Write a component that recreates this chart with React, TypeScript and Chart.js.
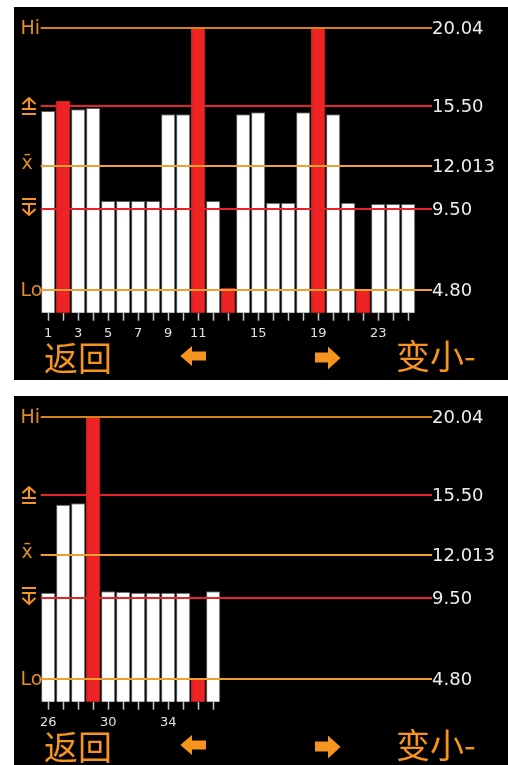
import React, { useEffect, useRef } from "react";
import { Chart, registerables } from "chart.js";

Chart.register(...registerables);

// ---- data ----
const topCategories = ["1","2","3","4","5","6","7","8","9","10","11","12","13","14","15","16","17","18","19","20","21","22","23","24","25"];
const topValues = [15.21, 15.81, 15.31, 15.39, 9.98, 9.98, 9.98, 9.98, 15.02, 15.02, 20.04, 9.98, 4.93, 15.02, 15.14, 9.88, 9.88, 15.14, 20.04, 15.02, 9.88, 4.8, 9.8, 9.8, 9.8];
const topTickLabels = ["1", "3", "5", "7", "9", "11", "15", "19", "23"];

const bottomCategories = ["26","27","28","29","30","31","32","33","34","35","36","37"];
const bottomValues = [9.82, 14.94, 15.02, 20.04, 9.9, 9.88, 9.82, 9.82, 9.82, 9.82, 4.8, 9.9];
const bottomTickLabels = ["26", "30", "34"];

const slotCount = 25;
const refValues = [20.04, 15.5, 12.013, 9.5, 4.8];
const refLabels = ["20.04", "15.50", "12.013", "9.50", "4.80"];
const refKinds = ["Hi", "USL", "Mean", "LSL", "Lo"];
const upperSpec = 15.5;
const lowerSpec = 9.5;
const yMin = 3.48;
const yMax = 21.0;

const ORANGE = "#f7941d";
const ORANGE_LBL = "#e38c1f";
const RED = "#e8222a";
const lineColors = ["#d4821a", RED, "#f0a030", RED, "#f0a030"];

const CHART_BOTTOM = 305.7;

function drawOverlay(chart: any) {
  const { ctx, chartArea, scales } = chart;
  const y = scales.y;
  const x0 = chartArea.left;
  const x1 = 418;
  ctx.save();
  refValues.forEach((v, i) => {
    const py = Math.round(y.getPixelForValue(v));
    ctx.strokeStyle = lineColors[i];
    ctx.lineWidth = 2;
    ctx.beginPath();
    ctx.moveTo(x0, py);
    ctx.lineTo(x1, py);
    ctx.stroke();
    // right value label
    ctx.fillStyle = "#eeeeee";
    ctx.font = "18px 'DejaVu Sans'";
    ctx.textBaseline = "middle";
    ctx.textAlign = "left";
    ctx.fillText(refLabels[i], x1, py + 1);
    // left tag
    const kind = refKinds[i];
    ctx.fillStyle = ORANGE_LBL;
    ctx.strokeStyle = ORANGE;
    ctx.font = "19px 'DejaVu Sans'";
    if (kind === "Hi") {
      ctx.fillText("Hi", 6.5, py + 1);
    } else if (kind === "Lo") {
      ctx.fillText("Lo", 6.5, py + 1);
    } else if (kind === "Mean") {
      ctx.fillText("x\u0304", 7.5, py - 2);
    } else if (kind === "USL") {
      ctx.lineWidth = 2;
      ctx.beginPath();
      ctx.moveTo(8.5, py - 2);
      ctx.lineTo(15, py - 8);
      ctx.lineTo(21.5, py - 2);
      ctx.moveTo(15, py - 8);
      ctx.lineTo(15, py + 3);
      ctx.moveTo(8, py + 3);
      ctx.lineTo(22, py + 3);
      ctx.moveTo(8, py + 8);
      ctx.lineTo(22, py + 8);
      ctx.stroke();
    } else if (kind === "LSL") {
      ctx.lineWidth = 2;
      ctx.beginPath();
      ctx.moveTo(8, py - 10);
      ctx.lineTo(22, py - 10);
      ctx.moveTo(8, py - 5);
      ctx.lineTo(22, py - 5);
      ctx.moveTo(15, py - 5);
      ctx.lineTo(15, py + 6);
      ctx.moveTo(8.5, py);
      ctx.lineTo(15, py + 6);
      ctx.lineTo(21.5, py);
      ctx.stroke();
    }
  });

  // bottom soft keys
  ctx.fillStyle = ORANGE;
  ctx.textBaseline = "middle";
  ctx.textAlign = "left";
  ctx.font = "34px 'Noto Sans CJK SC'";
  ctx.fillText("返回", 30, 351);
  ctx.fillText("变小-", 382, 349);

  // left arrow
  ctx.beginPath();
  ctx.moveTo(166.3, 349);
  ctx.lineTo(178, 339);
  ctx.lineTo(178, 344.5);
  ctx.lineTo(192, 344.5);
  ctx.lineTo(192, 353.5);
  ctx.lineTo(178, 353.5);
  ctx.lineTo(178, 359);
  ctx.closePath();
  ctx.fill();
  // right arrow
  ctx.beginPath();
  ctx.moveTo(326.5, 351);
  ctx.lineTo(314, 339.5);
  ctx.lineTo(314, 345.5);
  ctx.lineTo(301, 345.5);
  ctx.lineTo(301, 355.5);
  ctx.lineTo(314, 355.5);
  ctx.lineTo(314, 362.5);
  ctx.closePath();
  ctx.fill();
  ctx.restore();
}

const overlayPlugin = {
  id: "overlay",
  beforeDraw(chart: any) {
    const { ctx, width, height } = chart;
    ctx.save();
    ctx.fillStyle = "#000";
    ctx.fillRect(0, 0, width, height);
    ctx.restore();
  },
  afterDatasetsDraw(chart: any) {
    drawOverlay(chart);
  },
};

function Panel(props: { categories: string[]; values: number[]; shown: string[]; top: number; height: number }) {
  const ref = useRef<HTMLCanvasElement | null>(null);
  useEffect(() => {
    if (!ref.current) return;
    const labels = [...props.categories];
    while (labels.length < slotCount) labels.push("");
    const n = props.values.length;
    const colors = props.values.map((v) => (v > upperSpec || v < lowerSpec ? "#ee2424" : "#ffffff"));
    const borders = props.values.map((v) => (v > upperSpec || v < lowerSpec ? "#ee2424" : "#5a5a5a"));
    const axisHeight = props.height - CHART_BOTTOM;
    const chart = new Chart(ref.current, {
      type: "bar",
      data: {
        labels,
        datasets: [
          {
            data: props.values,
            backgroundColor: colors,
            borderColor: borders,
            borderWidth: 1,
            barPercentage: 0.95,
            categoryPercentage: 1,
          },
        ],
      },
      options: {
        responsive: false,
        animation: false,
        devicePixelRatio: 1,
        layout: { padding: { left: 26.7, right: 92.3, top: 4.5, bottom: 0 } },
        plugins: { legend: { display: false }, tooltip: { enabled: false } },
        scales: {
          y: { display: false, min: yMin, max: yMax },
          x: {
            display: true,
            afterFit: (scale: any) => {
              scale.height = axisHeight;
            },
            border: { display: false },
            grid: {
              display: true,
              drawOnChartArea: false,
              drawTicks: true,
              offset: false,
              tickLength: 8,
              tickWidth: 1.5,
              color: "transparent",
              tickColor: (c: any) => (c.index < n ? "#c8c8c8" : "transparent"),
            },
            ticks: {
              autoSkip: false,
              maxRotation: 0,
              minRotation: 0,
              padding: 5,
              color: "#e0e0e0",
              font: { family: "DejaVu Sans", size: 13 },
              callback: (_v: any, i: number) => (props.shown.includes(labels[i]) ? labels[i] : ""),
            },
          },
        },
      },
      plugins: [overlayPlugin],
    } as any);
    return () => chart.destroy();
  }, []);
  return (
    <canvas
      ref={ref}
      width={494}
      height={props.height}
      style={{ position: "absolute", left: 14, top: props.top, width: 494, height: props.height, display: "block" }}
    />
  );
}

export default function App() {
  return (
    <div>
      <Panel categories={topCategories} values={topValues} shown={topTickLabels} top={7} height={373} />
      <Panel categories={bottomCategories} values={bottomValues} shown={bottomTickLabels} top={396} height={369} />
    </div>
  );
}
